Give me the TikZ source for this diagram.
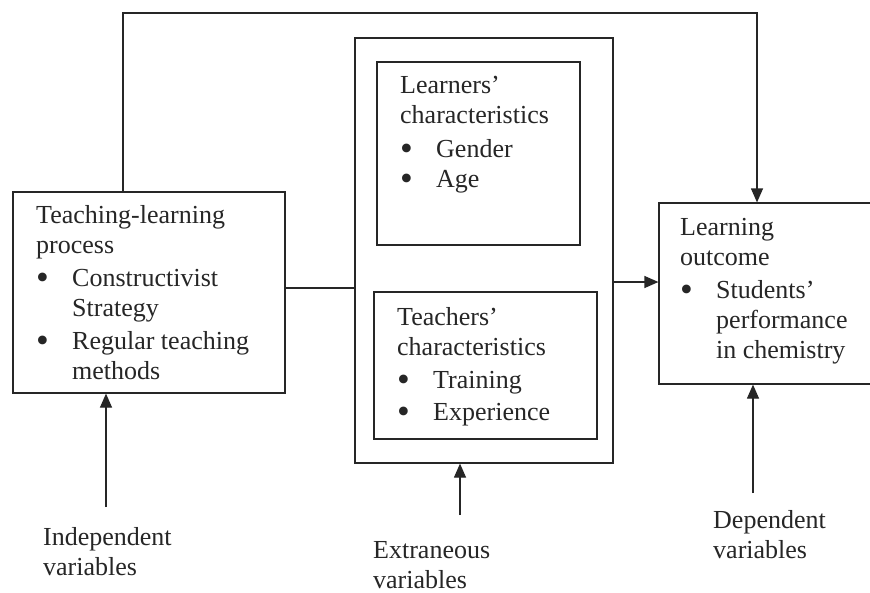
\documentclass[tikz,border=0pt]{standalone}
\usepackage{fontspec}
\usepackage{graphicx}
\setmainfont{Liberation Serif}
\usetikzlibrary{arrows.meta}
\definecolor{ink}{HTML}{262626}
\newcommand{\bigdot}{\smash{\raisebox{-3pt}{\scalebox{1.4}{\textbullet}}}}
\newcommand{\bul}[1]{\makebox[36pt][l]{\bigdot}#1}
\newcommand{\cont}[1]{\hspace*{36pt}#1}
\begin{document}
\begin{tikzpicture}[x=1pt,y=-1pt,
  frame/.style={draw=ink,line width=1.2pt,rectangle,inner sep=0pt},
  conn/.style={draw=ink,line width=1.2pt},
  arr/.style={conn,-{Triangle[length=14pt,width=12pt]}},
  txt/.style={anchor=base west,inner sep=0pt,text=ink,font=\fontsize{26}{30}\selectfont}]
\clip (0,0) rectangle (870,592);
\fill[white] (0,0) rectangle (870,592);

% boxes
\node[frame,minimum width=272pt,minimum height=201pt] (L)  at (149,292.5) {};
\node[frame,minimum width=258pt,minimum height=425pt] (M)  at (484,250.5) {};
\node[frame,minimum width=203pt,minimum height=183pt] (IT) at (478.5,153.5) {};
\node[frame,minimum width=223pt,minimum height=147pt] (IB) at (485.5,365.5) {};
\node[frame,minimum width=242pt,minimum height=181pt] (R)  at (780,293.5) {};

% box texts
\node[txt] (tL) at (36,223) {\parbox[t]{250pt}{\raggedright
  Teaching-learning\\ process\\[3pt]
  \bul{Constructivist}\\ \cont{Strategy}\\[3pt]
  \bul{Regular teaching}\\ \cont{methods}}};
\node[txt] (tIT) at (400,93) {\parbox[t]{180pt}{\raggedright
  Learners'\\ characteristics\\[4pt]
  \bul{Gender}\\ \bul{Age}}};
\node[txt] (tIB) at (397,325) {\parbox[t]{200pt}{\raggedright
  Teachers'\\ characteristics\\[3pt]
  \bul{Training}\\[2pt] \bul{Experience}}};
\node[txt] (tR) at (680,235) {\parbox[t]{200pt}{\raggedright
  Learning\\ outcome\\[3pt]
  \bul{Students'}\\ \cont{performance}\\ \cont{in chemistry}}};

% labels
\node[txt] (lI) at (43,545) {\parbox[t]{200pt}{\raggedright Independent\\ variables}};
\node[txt] (lE) at (373,558) {\parbox[t]{200pt}{\raggedright Extraneous\\ variables}};
\node[txt] (lD) at (713,528) {\parbox[t]{200pt}{\raggedright Dependent\\ variables}};

% connectors
\coordinate (tl) at (123,13);
\coordinate (tr) at (757,13);
\draw[arr] (tl |- L.north) -- (tl) -- (tr) -- (tr |- R.north);

\coordinate (jl) at (320,288);
\draw[conn] (jl -| L.east) -- (jl -| M.west);
\coordinate (jr) at (635,282);
\draw[arr] (jr -| M.east) -- (jr -| R.west);

\coordinate (a1) at (106,507);
\coordinate (a2) at (460,515);
\coordinate (a3) at (753,493);
\draw[arr] (a1) -- (a1 |- L.south);
\draw[arr] (a2) -- (a2 |- M.south);
\draw[arr] (a3) -- (a3 |- R.south);
\end{tikzpicture}
\end{document}
